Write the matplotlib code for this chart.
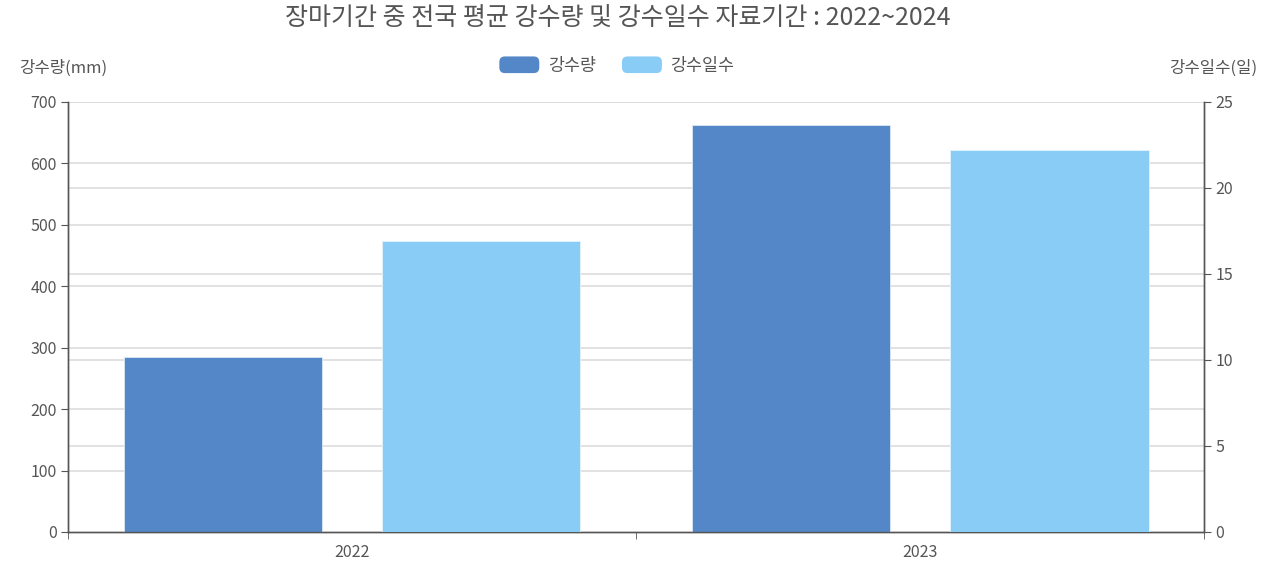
import numpy as np
import matplotlib
matplotlib.use('Agg')
import matplotlib.pyplot as plt
from matplotlib.patches import FancyBboxPatch, Rectangle
from matplotlib.legend_handler import HandlerPatch

plt.rcParams['font.family'] = ['Noto Sans CJK KR', 'DejaVu Sans']

# Data
years = ['2022', '2023']
rain_mm = [285, 663]
rain_days = [16.9, 22.2]

title = '장마기간 중 전국 평균 강수량 및 강수일수 자료기간 : 2022~2024'
c_mm = '#5487c7'
c_days = '#89ccf6'
text_c = '#555555'
axis_c = '#555555'
grid_c = '#dddddd'


class RoundHandler(HandlerPatch):
    def create_artists(self, legend, orig_handle, xdescent, ydescent,
                       width, height, fontsize, trans):
        p = FancyBboxPatch((-xdescent, -ydescent), width, height,
                           boxstyle='round,pad=0,rounding_size=4',
                           facecolor=orig_handle.get_facecolor(),
                           edgecolor='none', transform=trans)
        return [p]


fig = plt.figure(figsize=(12.8, 5.7), dpi=100)
ax = fig.add_axes([0.053, 0.0667, 0.888, 0.7544])
ax2 = ax.twinx()

x = np.arange(len(years))
w = 0.349
b1 = ax.bar(x - 0.227, rain_mm, w, color=c_mm, edgecolor='#dce8f5', linewidth=0.6,
            label='강수량', zorder=3)
b2 = ax2.bar(x + 0.227, rain_days, w, color=c_days, edgecolor='#e3f3fd', linewidth=0.6,
             label='강수일수', zorder=3)

ax.set_xlim(-0.5, len(years) - 0.5)
ax.set_ylim(0, 700)
ax2.set_ylim(0, 25)
ax.set_yticks(np.arange(0, 701, 100))
ax2.set_yticks(np.arange(0, 26, 5))

ax.set_xticks(x)
ax.set_xticklabels(years)
ax.set_xticks(np.arange(-0.5, len(years), 1), minor=True)
ax.tick_params(axis='x', which='major', length=0, pad=9, labelsize=11.5, labelcolor=text_c)
ax.tick_params(axis='x', which='minor', length=5, color=axis_c, direction='out')
ax.tick_params(axis='y', length=5, color=axis_c, labelsize=11.5, labelcolor=text_c, pad=3)
ax2.tick_params(axis='y', length=5, color=axis_c, labelsize=11.5, labelcolor=text_c, pad=3)

# grids for both axes, behind bars
ax.set_zorder(1)
ax2.set_zorder(2)
ax2.patch.set_visible(False)
for v in np.arange(100, 701, 100):
    ax.axhline(v, color=grid_c, linewidth=1.2, zorder=0)
for v in np.arange(5, 26, 5):
    ax.axhline(v / 25 * 700, color=grid_c, linewidth=1.2, zorder=0)

ax.spines['top'].set_visible(False)
ax2.spines['top'].set_visible(False)
for a in (ax, ax2):
    for sp in ['left', 'right', 'bottom']:
        a.spines[sp].set_color(axis_c)
        a.spines[sp].set_linewidth(1.0)

fig.text(0.483, 0.966, title, ha='center', va='center', fontsize=18, color=text_c)
fig.text(0.015, 0.88, '강수량(mm)', ha='left', va='center', fontsize=12, color=text_c)
fig.text(0.982, 0.88, '강수일수(일)', ha='right', va='center', fontsize=12, color=text_c)

h1 = Rectangle((0, 0), 1, 1, facecolor=c_mm)
h2 = Rectangle((0, 0), 1, 1, facecolor=c_days)
fig.legend(handles=[h1, h2], labels=['강수량', '강수일수'], loc='center',
           bbox_to_anchor=(0.482, 0.885), ncol=2, frameon=False, fontsize=12.5,
           handlelength=2.3, handleheight=1.1, columnspacing=1.5, handletextpad=0.5,
           labelcolor=text_c, handler_map={Rectangle: RoundHandler()})

fig.savefig('out.png', dpi=100)
